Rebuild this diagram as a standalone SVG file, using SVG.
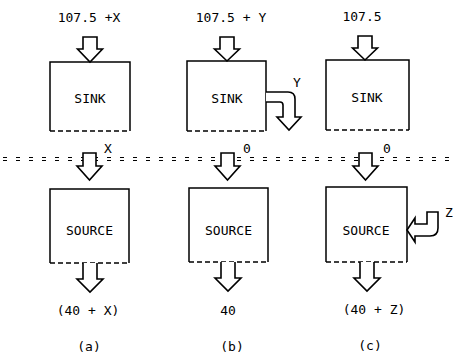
<svg xmlns="http://www.w3.org/2000/svg" width="453" height="358" viewBox="0 0 453 358">
  <style>
    text { font-family: "DejaVu Sans Mono", "Liberation Mono", monospace; font-size: 13px; fill: #000; text-anchor: middle; }
    .edge { fill: none; stroke: #000; stroke-width: 1.5; }
    .dash { fill: none; stroke: #000; stroke-width: 1.5; stroke-dasharray: 5 3; }
    .arrow { fill: #fff; stroke: #000; stroke-width: 1.6; stroke-linejoin: miter; }
    .divider { stroke: #000; stroke-width: 1; stroke-dasharray: 4 9; }
  </style>

  <rect width="453" height="358" fill="#fff"/>

  <!-- boundary line -->
  <g id="boundary">
    <line class="divider" x1="3" y1="157.5" x2="453" y2="157.5"/>
    <line class="divider" x1="3" y1="160.5" x2="453" y2="160.5"/>
  </g>

  <!-- case (a) -->
  <g id="sink-a">
    <path class="edge" d="M50,131 V62 H130 V131"/>
    <line class="dash" x1="50" y1="131" x2="130" y2="131"/>
    <text x="90" y="102.5">SINK</text>
  </g>
  <g id="source-a">
    <path class="edge" d="M50,263 V189 H129 V263"/>
    <line class="dash" x1="50" y1="263" x2="129" y2="263"/>
    <text x="89.5" y="235">SOURCE</text>
  </g>

  <!-- case (b) -->
  <g id="sink-b">
    <path class="edge" d="M187,131 V61 H266 V131"/>
    <line class="dash" x1="187" y1="131" x2="266" y2="131"/>
    <text x="227" y="102.5">SINK</text>
  </g>
  <g id="source-b">
    <path class="edge" d="M189,262 V188 H268 V262"/>
    <line class="dash" x1="189" y1="262" x2="268" y2="262"/>
    <text x="228.5" y="235">SOURCE</text>
  </g>

  <!-- case (c) -->
  <g id="sink-c">
    <path class="edge" d="M326,130 V60 H409 V130"/>
    <line class="dash" x1="326" y1="130" x2="409" y2="130"/>
    <text x="367" y="102">SINK</text>
  </g>
  <g id="source-c">
    <path class="edge" d="M326,262 V187 H407 V262"/>
    <line class="dash" x1="326" y1="262" x2="407" y2="262"/>
    <text x="366" y="234.5">SOURCE</text>
  </g>

  <!-- heat-flow arrows -->
  <g id="connectors">
    <!-- into sinks -->
    <path class="arrow" d="M83,37 H97 V49 H102.5 L90,62 L77.5,49 H83 Z"/>
    <path class="arrow" d="M220,37 H234 V49 H239.5 L227,61 L214.5,49 H220 Z"/>
    <path class="arrow" d="M358,36 H372 V48 H377.5 L365,60 L352.5,48 H358 Z"/>

    <!-- across the boundary -->
    <path class="arrow" d="M83,153 H96 V166 H102 L89.5,180 L77,166 H83 Z"/>
    <path class="arrow" d="M221,153 H234 V166 H240 L227.5,180 L215,166 H221 Z"/>
    <path class="arrow" d="M359,153 H372 V166 H378 L365.5,180 L353,166 H359 Z"/>

    <!-- out of sources -->
    <path class="arrow" d="M83,263 V279 H77 L90,292 L103,279 H97 V263"/>
    <path class="arrow" d="M221,262 V278 H215 L228,291 L241,278 H235 V262"/>
    <path class="arrow" d="M360,262 V278 H354 L367,291 L380,278 H374 V262"/>

    <!-- sink (b) side outflow Y -->
    <path class="arrow" d="M266,92 H288 Q295,92 295,99 V117 H301 L289,130 L277,117 H283 V105 Q283,102 280,102 H266"/>

    <!-- source (c) side inflow Z -->
    <path class="arrow" d="M407,230 L415,218 V224 H427 V212 H438 V228 Q438,236 430,236 H415 V242 Z"/>
  </g>

  <!-- labels -->
  <g id="labels">
    <text x="89" y="22">107.5 +X</text>
    <text x="231" y="22">107.5 + Y</text>
    <text x="362" y="21">107.5</text>

    <text x="297" y="86.5">Y</text>
    <text x="449" y="217">Z</text>

    <text x="108" y="152.5">X</text>
    <text x="247" y="152.5">0</text>
    <text x="387" y="152.5">0</text>

    <text x="88" y="315">(40 + X)</text>
    <text x="228" y="315">40</text>
    <text x="374" y="314">(40 + Z)</text>

    <text x="89" y="351">(a)</text>
    <text x="232" y="351">(b)</text>
    <text x="370" y="350">(c)</text>
  </g>
</svg>
